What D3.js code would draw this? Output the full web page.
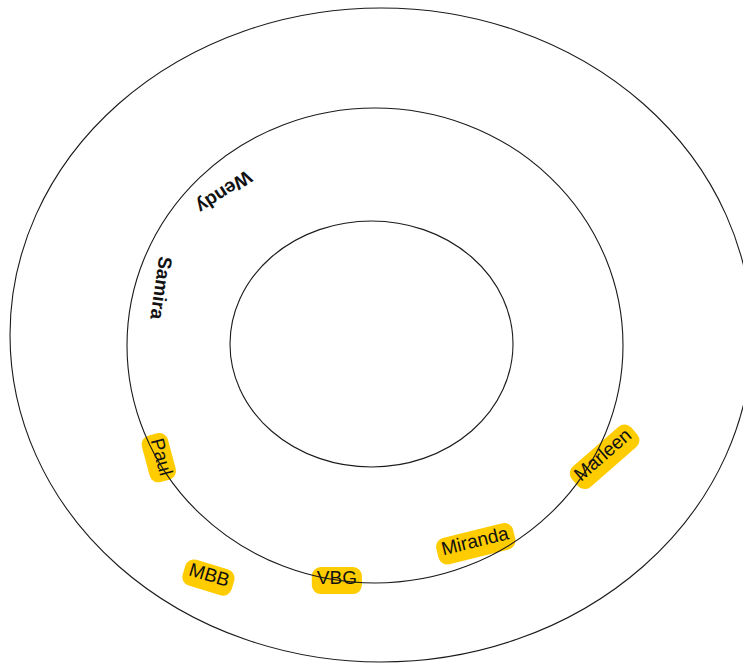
<!DOCTYPE html>
<html>
<head>
<meta charset="utf-8">
<script src="https://cdn.jsdelivr.net/npm/d3@7"></script>
<style>
  body { margin: 0; background: #fff; }
</style>
</head>
<body>
<div id="chart-area"></div>
<script>
// ring levels and the people placed on them
const rings = [1, 2, 3];
const names = ["Wendy", "Samira", "Paul", "MBB", "VBG", "Miranda", "Marleen"];
const angles = [226.5, 195, 150.6, 123.1, 98.8, 64.5, 27.5];   // degrees round the centre
const levels = [1.73, 1.75, 1.97, 2.45, 2.01, 1.85, 2.07];     // ring units
const tilts = [147, 98, 75, 17, 0, -14, -41];                  // text rotation
const highlighted = [false, false, true, true, true, true, true];

const width = 743;
const height = 663;

let svg = d3.select("#chart-area")
  .append("svg")
  .attr("width", width)
  .attr("height", height);

// the rings are ellipses, so x and y radius get their own scale
let rx = d3.scaleLinear()
  .domain([0, 1, 2, 3])
  .range([0, 141.5, 248, 371]);
let ry = d3.scaleLinear()
  .domain([0, 1, 2, 3])
  .range([0, 123, 237.5, 327]);

// slight drift of each ring's centre
let cxScale = d3.scaleLinear().domain([1, 2, 3]).range([371.5, 375, 381]);
let cyScale = d3.scaleLinear().domain([1, 2, 3]).range([344, 345.5, 335]);

const cx = 375, cy = 342;

let data = names.map((n, i) => ({
  name: n,
  angle: angles[i] * Math.PI / 180,
  level: levels[i],
  tilt: tilts[i],
  hl: highlighted[i]
}));

// labels
let labels = svg.selectAll("g.label").data(data)
  .enter().append("g")
  .attr("class", "label")
  .attr("transform", d => {
    let x = cx + rx(d.level) * Math.cos(d.angle);
    let y = cy + ry(d.level) * Math.sin(d.angle);
    return `translate(${x},${y}) rotate(${d.tilt})`;
  });

labels.append("text")
  .attr("text-anchor", "middle")
  .attr("dominant-baseline", "central")
  .attr("font-family", "'Liberation Sans', Arial, sans-serif")
  .attr("font-size", "19px")
  .attr("font-weight", d => d.hl ? "normal" : "bold")
  .attr("fill", "#111")
  .text(d => d.name);

labels.filter(d => d.hl).each(function() {
  let g = d3.select(this);
  let bb = g.select("text").node().getBBox();
  g.insert("rect", "text")
    .attr("x", bb.x - 5)
    .attr("y", bb.y)
    .attr("width", bb.width + 10)
    .attr("height", bb.height + 6)
    .attr("rx", 9)
    .attr("fill", "#ffcc00");
});

// rings on top
svg.selectAll("ellipse").data(rings)
  .enter().append("ellipse")
  .attr("cx", d => cxScale(d))
  .attr("cy", d => cyScale(d))
  .attr("rx", d => rx(d))
  .attr("ry", d => ry(d))
  .attr("fill", "none")
  .attr("stroke", "#1a1a1a")
  .attr("stroke-width", 1.1);
</script>
</body>
</html>
